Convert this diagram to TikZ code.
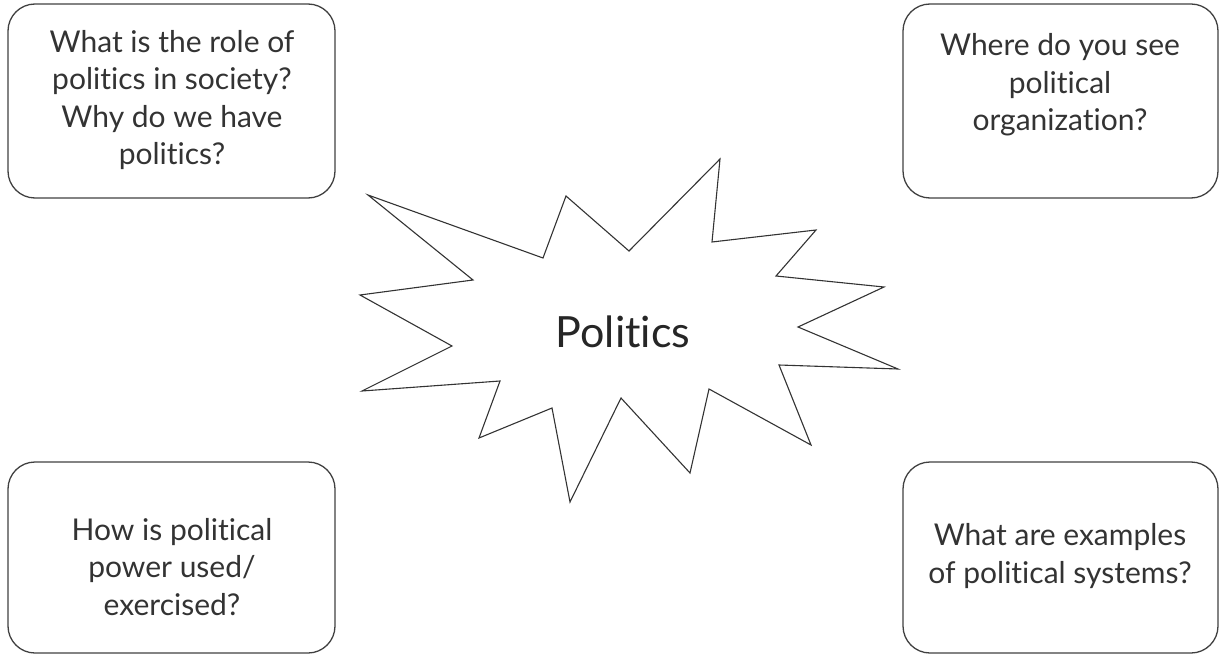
\documentclass[tikz,border=0pt]{standalone}
\usepackage{fontspec}
\setmainfont{Lato}[Ligatures=NoCommon]
\begin{document}
\begin{tikzpicture}[x=1pt,y=-1pt,
  qbox/.style={draw=black!75,line width=1.3pt,rounded corners=27pt},
  qtext/.style={align=center,font=\fontsize{30}{37.5}\selectfont,text=black!80},
  star/.style={draw=black!80,line width=1.1pt,line join=miter}]
\useasboundingbox (0,0) rectangle (1220,655);
\draw[qbox] (8,4) rectangle (335,198);
\draw[qbox] (903,4) rectangle (1218,198);
\draw[qbox] (8,462) rectangle (335,653);
\draw[qbox] (903,462) rectangle (1218,653);
\node[qtext] (q1) at (172,100) {What is the role of\\politics in society?\\Why do we have\\politics?};
\node[qtext] (q2) at (1060,85) {Where do you see\\political\\organization?};
\node[qtext] (q3) at (172,567) {How is political\\power used/\\exercised?};
\node[qtext] (q4) at (1060,556) {What are examples\\of political systems?};
\draw[star] (368,195) -- (543,258) -- (566,196) -- (629,251) -- (720,159) -- (712,242)
  -- (816,230) -- (776,276) -- (884,287) -- (798,327) -- (898,369) -- (779,365)
  -- (811,445) -- (709,389) -- (690,473) -- (621,398) -- (570,502) -- (552,408)
  -- (479,438) -- (500,381) -- (362,391) -- (452,346) -- (360,295) -- (473,280) -- cycle;
\node[font=\fontsize{43}{50}\selectfont,text=black!85] (c) at (623,332) {Politics};
\end{tikzpicture}
\end{document}
